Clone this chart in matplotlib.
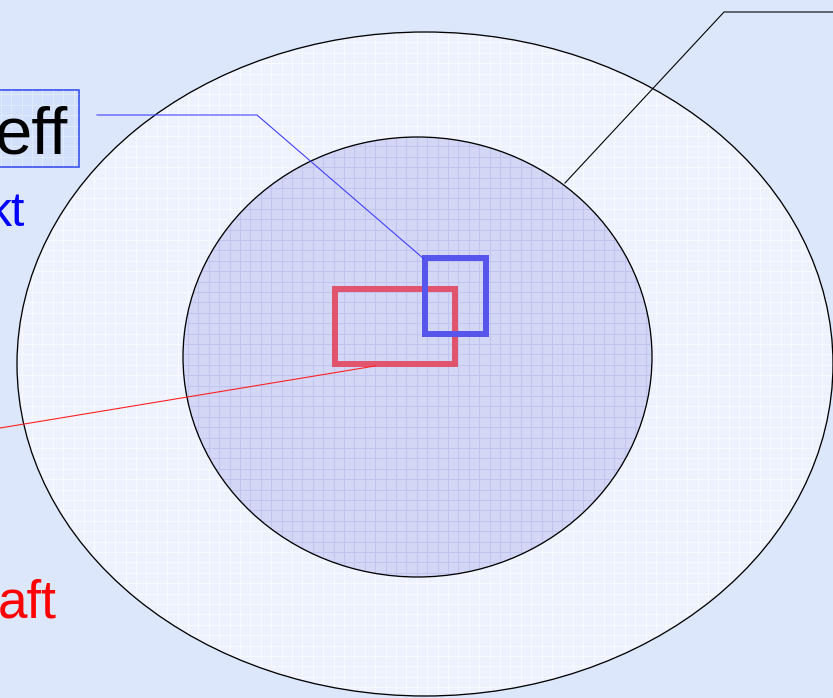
import matplotlib
matplotlib.use("Agg")
import matplotlib.pyplot as plt
import numpy as np
from matplotlib.patches import Ellipse, Rectangle
from matplotlib.collections import LineCollection

# --- diagram content ---
labels = ["eff", "kt", "aft"]
label_colors = ["black", "#0000FF", "#FF0000"]

W, H = 833, 698
DPI = 100
fig = plt.figure(figsize=(W / DPI, H / DPI), dpi=DPI)
fig.patch.set_facecolor("#DCE7FC")
ax = fig.add_axes([0, 0, 1, 1])
ax.set_xlim(0, W)
ax.set_ylim(H, 0)
ax.axis("off")

px = 72.0 / DPI  # points per pixel


def grid_in(patch, color, step, lw, z):
    xs = np.arange(-20, W + 20, step)
    ys = np.arange(-20, H + 20, step)
    segs = [[(x, -50), (x, H + 50)] for x in xs] + [[(-50, y), (W + 50, y)] for y in ys]
    lc = LineCollection(segs, colors=color, linewidths=lw * px, zorder=z)
    ax.add_collection(lc)
    lc.set_clip_path(patch)


# outer ellipse
outer = Ellipse((425, 364), 816, 664, facecolor="#EDF2FE", edgecolor="none", zorder=1)
ax.add_patch(outer)
grid_in(outer, "#F8FAFF", 10.4, 1.0, 1.5)
ax.add_patch(Ellipse((425, 364), 816, 664, facecolor="none", edgecolor="black",
                     linewidth=1.3 * px, zorder=2))

# inner ellipse
inner = Ellipse((417.5, 357), 469, 440, facecolor="#D4D6F5", edgecolor="none", zorder=3)
ax.add_patch(inner)
grid_in(inner, "#C2C4F0", 10.4, 1.0, 3.5)
ax.add_patch(Ellipse((417.5, 357), 469, 440, facecolor="none", edgecolor="black",
                     linewidth=1.3 * px, zorder=4))

# rectangles
ax.add_patch(Rectangle((335, 289), 120, 75, facecolor="none", edgecolor="#E0546E",
                       linewidth=6 * px, zorder=5))
ax.add_patch(Rectangle((425, 258), 61, 76, facecolor="none", edgecolor="#5656EC",
                       linewidth=6 * px, zorder=6))

# leader lines
ax.plot([97, 257, 424], [115, 115, 259], color="#4040FF", linewidth=1.1 * px, zorder=7)
ax.plot([0, 375], [428, 366], color="#FF2020", linewidth=1.1 * px, zorder=7)
ax.plot([565, 724, 833], [183, 12, 12], color="black", linewidth=1.1 * px, zorder=7)

# label box for "eff"
box = Rectangle((-10, 90), 89, 77, facecolor="#D2E0FB", edgecolor="#4A62F0",
                linewidth=1.5 * px, zorder=8)
ax.add_patch(box)
grid_in(box, "#E0EAFD", 10.4, 1.0, 8.5)
ax.add_patch(Rectangle((-10, 90), 89, 77, facecolor="none", edgecolor="#4A62F0",
                       linewidth=1.5 * px, zorder=8.6))

fam = ["Liberation Sans", "DejaVu Sans"]
ax.text(67, 153, labels[0], color=label_colors[0], fontsize=67 * px, family=fam,
        ha="right", va="baseline", zorder=9)
ax.text(25, 226, labels[1], color=label_colors[1], fontsize=48 * px, family=fam,
        ha="right", va="baseline", zorder=9)
ax.text(57, 617, labels[2], color=label_colors[2], fontsize=53 * px, family=fam,
        ha="right", va="baseline", zorder=9)

fig.savefig("out.png", dpi=DPI, facecolor=fig.get_facecolor())
